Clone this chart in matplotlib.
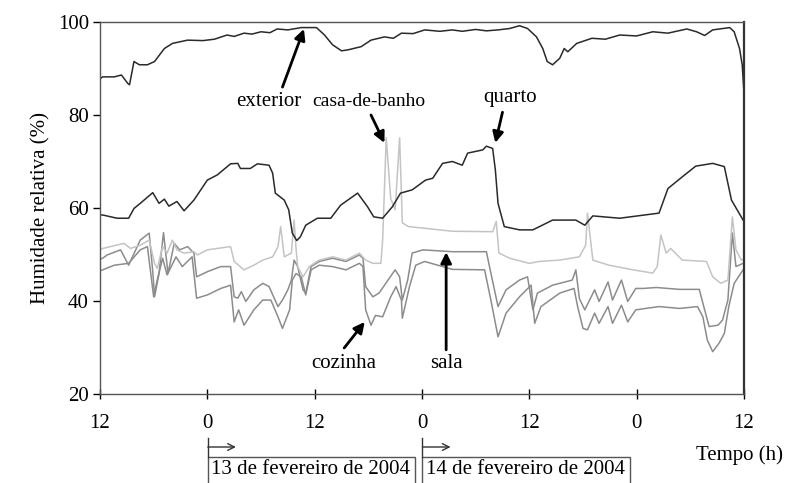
import matplotlib
matplotlib.use("Agg")
import matplotlib.pyplot as plt
import matplotlib.transforms as mtransforms
from matplotlib.patches import Rectangle
from matplotlib.lines import Line2D

# ---------------------------------------------------------------------------
# Data (hours relative to 13 Feb 2004 00:00, relative humidity in %)
# ---------------------------------------------------------------------------
ext_h = [-12, -11.7, -10.4, -9.6, -8.9, -8.7, -8.2, -7.6, -6.7, -5.9, -4.8, -3.9, -2.2, -0.5,
         0.8, 2.2, 3.0, 4.1, 5.0, 6.0, 7.0, 7.8, 9.0, 10.5, 12.2, 13.1, 14.0, 15.0, 15.7,
         17.2, 18.3, 19.8, 20.8, 21.7, 23.0, 24.3, 26.0, 27.4, 28.5, 30.0, 31.2, 32.5, 33.8,
         34.9, 35.8, 36.8, 37.5, 38.0, 38.6, 39.4, 39.9, 40.3, 41.3, 43.0, 44.5, 46.1, 48.0,
         49.8, 51.5, 53.6, 54.7, 55.6, 56.5, 58.4, 58.9, 59.5, 59.8, 60.0]
ext_rh = [87.8, 88.2, 88.2, 88.6, 86.8, 86.5, 91.5, 90.8, 90.8, 91.5, 94.3, 95.4, 96.1, 96.0,
          96.3, 97.2, 96.9, 97.6, 97.4, 97.9, 97.7, 98.5, 98.3, 98.8, 98.8, 97.2, 95.1, 93.8,
          94.0, 94.7, 96.1, 96.8, 96.5, 97.6, 97.5, 98.3, 98.0, 98.3, 98.0, 98.4, 98.1, 98.3,
          98.6, 99.2, 98.6, 96.8, 94.3, 91.5, 90.8, 92.2, 94.3, 93.6, 95.4, 96.5, 96.3, 97.2,
          97.0, 97.9, 97.6, 98.5, 97.9, 97.1, 98.3, 98.8, 97.9, 94.3, 90.8, 84.7]

quarto_h = [-12, -11.7, -10.1, -8.8, -8.2, -7.5, -6.1, -5.4, -4.8, -4.3, -3.4, -2.6, -1.5, 0.0,
            1.1, 2.6, 3.4, 3.7, 4.8, 5.6, 6.9, 7.3, 7.6, 8.6, 9.1, 9.5, 10.0, 10.4, 11.0,
            12.3, 13.8, 14.9, 16.8, 17.9, 18.6, 19.6, 20.7, 21.6, 22.9, 24.4, 25.2, 26.3,
            27.4, 28.5, 29.1, 30.8, 31.2, 31.9, 32.2, 32.5, 33.2, 34.9, 36.4, 38.6, 41.2,
            42.2, 43.1, 46.1, 50.5, 51.5, 53.1, 54.6, 56.5, 57.8, 58.6, 59.9]
quarto_rh = [58.5, 58.5, 57.8, 57.8, 59.9, 61.0, 63.3, 61.0, 61.9, 60.4, 61.4, 59.4, 61.7, 66.0,
             67.1, 69.5, 69.6, 68.5, 68.5, 69.5, 69.2, 67.5, 63.2, 61.7, 59.6, 54.6, 53.0, 53.8,
             56.3, 57.8, 57.8, 60.6, 63.2, 60.3, 58.1, 57.8, 60.3, 63.2, 63.9, 66.0, 66.4, 69.6,
             70.0, 69.2, 71.8, 72.5, 73.3, 72.8, 68.2, 61.0, 56.0, 55.3, 55.3, 57.4, 57.4,
             56.3, 58.3, 57.8, 58.9, 64.2, 66.7, 69.0, 69.6, 68.9, 61.7, 57.4]

banho_h = [-12, -11.7, -9.3, -8.6, -7.5, -6.5, -5.9, -5.6, -5.0, -4.5, -3.9, -3.4, -2.6, -1.5,
           -1.1, 0.0, 2.6, 3.0, 4.1, 5.2, 6.2, 7.3, 7.9, 8.2, 8.6, 9.4, 9.7, 9.9, 10.1, 10.7,
           11.4, 12.5, 14.0, 15.5, 17.0, 17.7, 18.5, 19.4, 19.6, 20.0, 20.5, 21.0, 21.5, 21.8,
           22.5, 24.0, 27.4, 31.9, 32.3, 32.6, 33.8, 36.0, 37.1, 39.4, 41.6, 42.3, 42.5, 43.1,
           44.9, 47.6, 49.8, 50.3, 50.7, 51.3, 51.8, 53.1, 55.8, 56.5, 57.4, 58.2, 58.7, 59.1,
           59.7, 60.0]
banho_rh = [51.0, 51.3, 52.4, 51.3, 52.0, 53.1, 48.1, 47.0, 51.7, 50.3, 53.1, 51.0, 50.3, 50.6,
            49.9, 51.0, 51.7, 48.5, 46.7, 47.7, 48.8, 49.5, 51.7, 56.0, 49.5, 50.3, 57.4, 51.7,
            47.4, 45.2, 47.4, 48.8, 49.5, 48.8, 50.3, 48.8, 48.1, 48.1, 53.1, 75.1, 62.0, 59.6,
            75.1, 56.8, 56.0, 55.7, 55.0, 54.9, 57.1, 50.3, 49.2, 48.1, 48.5, 48.8, 49.5, 52.0,
            58.9, 48.8, 47.7, 46.7, 46.0, 47.4, 54.2, 50.3, 51.3, 48.8, 48.5, 45.2, 43.8, 44.5,
            58.1, 51.0, 48.8, 49.0]

sala_h = [-12, -11.7, -11.2, -9.7, -8.8, -7.5, -6.5, -6.1, -5.9, -5.4, -4.9, -4.4, -3.7, -3.1,
          -2.2, -1.5, -1.2, 0.0, 1.5, 2.6, 3.0, 3.4, 3.8, 4.3, 5.2, 6.2, 6.9, 7.9, 8.4, 9.0,
          9.4, 9.7, 10.1, 10.7, 11.0, 11.6, 12.5, 14.0, 15.5, 17.0, 17.4, 17.7, 18.5, 19.2,
          20.2, 21.0, 21.5, 21.8, 22.4, 22.9, 24.1, 27.4, 31.2, 31.7, 32.5, 33.4, 34.9, 35.8,
          36.4, 36.9, 38.6, 40.8, 41.2, 41.6, 42.2, 43.3, 43.8, 44.8, 45.3, 46.3, 47.0, 47.9,
          48.7, 50.2, 52.8, 55.0, 55.6, 56.1, 57.1, 57.6, 58.2, 58.7, 59.1, 59.9]
sala_rh = [49.0, 49.2, 49.9, 51.0, 47.7, 53.1, 54.6, 46.3, 40.9, 45.9, 54.7, 45.9, 52.4, 51.0,
           51.7, 50.3, 45.2, 46.3, 47.4, 47.4, 40.9, 40.6, 42.0, 39.9, 42.4, 43.8, 43.1, 38.8,
           40.2, 42.4, 44.5, 48.8, 47.4, 42.4, 41.7, 47.4, 48.5, 49.2, 48.5, 49.9, 49.2, 43.1,
           40.9, 41.7, 44.5, 46.7, 45.2, 40.2, 44.5, 50.3, 51.0, 50.6, 50.6, 46.0, 38.8, 42.4,
           44.5, 45.2, 38.1, 41.7, 43.4, 44.5, 46.7, 40.5, 38.1, 42.4, 39.9, 44.1, 40.2, 44.5,
           39.9, 42.7, 42.7, 42.9, 42.5, 42.5, 38.1, 34.5, 34.8, 35.9, 40.2, 54.6, 47.4, 48.1]

cozinha_h = [-12, -11.7, -10.4, -8.8, -7.5, -6.7, -6.0, -5.6, -5.0, -4.5, -3.5, -2.8, -1.7,
             -1.2, 0.0, 1.5, 2.6, 3.0, 3.5, 4.1, 5.2, 6.2, 7.1, 7.9, 8.4, 9.2, 9.5, 9.9, 10.5,
             11.0, 11.6, 12.5, 14.0, 15.5, 17.0, 17.4, 17.7, 18.3, 18.8, 19.6, 20.5, 21.1,
             21.7, 21.8, 22.6, 23.3, 24.3, 27.4, 31.0, 31.7, 32.5, 33.4, 34.9, 36.2, 36.6,
             37.3, 39.4, 41.0, 41.4, 42.0, 42.5, 43.3, 43.8, 44.8, 45.3, 46.3, 47.0, 47.9,
             49.0, 50.5, 52.8, 54.8, 55.4, 55.9, 56.5, 57.2, 57.8, 58.3, 58.9, 59.9]
cozinha_rh = [46.5, 46.7, 47.7, 48.1, 51.0, 51.7, 40.9, 44.5, 49.2, 45.6, 49.5, 47.4, 49.5,
              40.6, 41.3, 42.7, 43.4, 35.5, 38.1, 34.8, 38.1, 40.2, 40.2, 36.6, 34.1, 38.1,
              44.5, 45.9, 45.2, 41.3, 46.7, 47.7, 47.4, 46.7, 48.1, 47.4, 38.1, 34.8, 36.9,
              36.6, 40.9, 43.1, 40.2, 36.3, 43.1, 47.7, 48.5, 46.8, 46.7, 40.2, 32.3, 37.4,
              40.9, 43.4, 35.2, 38.8, 41.7, 42.7, 38.8, 34.1, 33.8, 37.4, 35.2, 38.8, 35.2,
              39.1, 35.5, 38.1, 38.4, 38.8, 38.4, 38.8, 36.6, 31.6, 29.1, 30.9, 33.0, 38.8,
              43.8, 46.7]

x_ticks = [-12, 0, 12, 24, 36, 48, 60]
x_tick_labels = ["12", "0", "12", "0", "12", "0", "12"]
y_ticks = [20, 40, 60, 80, 100]
day_starts = [0, 24]
day_labels = ["13 de fevereiro de 2004", "14 de fevereiro de 2004"]

plt.rcParams["font.family"] = ["Liberation Serif", "DejaVu Serif"]
plt.rcParams["font.size"] = 15

fig = plt.figure(figsize=(7.86, 4.83), dpi=100)
ax = fig.add_axes([100 / 786, 1 - 394 / 483, 644 / 786, 372 / 483])

ax.plot(cozinha_h, cozinha_rh, color="#8c8c8c", lw=1.1)
ax.plot(sala_h, sala_rh, color="#8c8c8c", lw=1.1)
ax.plot(banho_h, banho_rh, color="#c4c4c4", lw=1.1)
ax.plot(quarto_h, quarto_rh, color="#2a2a2a", lw=1.1)
ax.plot(ext_h, ext_rh, color="#2a2a2a", lw=1.1)

ax.set_xlim(-12, 60)
ax.set_ylim(20, 100)
ax.set_xticks(x_ticks)
ax.set_xticklabels(x_tick_labels)
ax.set_yticks(y_ticks)
ax.tick_params(axis="x", direction="inout", length=7, pad=11, width=1)
ax.tick_params(axis="y", direction="out", length=5, pad=3, width=1)
for side in ["left", "bottom", "top"]:
    ax.spines[side].set_linewidth(1.0)
    ax.spines[side].set_color("#555555")
ax.spines["right"].set_linewidth(1.6)
ax.spines["right"].set_color("#333333")
ax.set_ylabel("Humidade relativa (%)", labelpad=5)

# annotations: (label, text pos, arrow tail, arrow head, font size)
arrow_kw = dict(arrowstyle="-|>", color="black", lw=2, mutation_scale=16, shrinkA=0, shrinkB=0)
notes = [
    ("exterior", (6.9, 83.0), (8.4, 86.0), (10.8, 98.5), 15),
    ("casa-de-banho", (18.0, 83.0), (18.3, 80.0), (19.8, 74.0), 14),
    ("quarto", (33.8, 83.7), (33.0, 80.6), (32.2, 74.0), 15),
    ("cozinha", (15.2, 26.5), (15.3, 29.9), (17.6, 35.5), 15),
    ("sala", (26.7, 26.5), (26.7, 29.5), (26.7, 50.5), 15),
]
for label, tpos, tail, head, size in notes:
    ax.text(tpos[0], tpos[1], label, ha="center", va="center", fontsize=size)
    ax.annotate("", xy=head, xytext=tail, arrowprops=arrow_kw)

# date boxes below the axis
trans = mtransforms.blended_transform_factory(ax.transData, fig.transFigure)
for start, label in zip(day_starts, day_labels):
    x0 = start + 0.05
    rect = Rectangle((x0, -0.05), 23.2, 0.05 + 1 - 457 / 483, transform=trans,
                     fill=False, edgecolor="#555555", lw=1.0, clip_on=False)
    fig.add_artist(rect)
    fig.add_artist(Line2D([x0, x0], [1 - 438 / 483, 1 - 457 / 483], transform=trans,
                          color="#333333", lw=1.0))
    ax.annotate("", xy=(start + 3.2, 1 - 447 / 483), xytext=(x0, 1 - 447 / 483),
                xycoords=trans, textcoords=trans,
                arrowprops=dict(arrowstyle="->", color="#333333", lw=1.0,
                                shrinkA=0, shrinkB=0, mutation_scale=12),
                annotation_clip=False)
    fig.text(start + 0.4, 1 - 470 / 483, label, transform=trans, ha="left", va="center")

fig.text(740 / 786, 1 - 455 / 483, "Tempo (h)", ha="center", va="center")

fig.savefig("out.png", dpi=100)
